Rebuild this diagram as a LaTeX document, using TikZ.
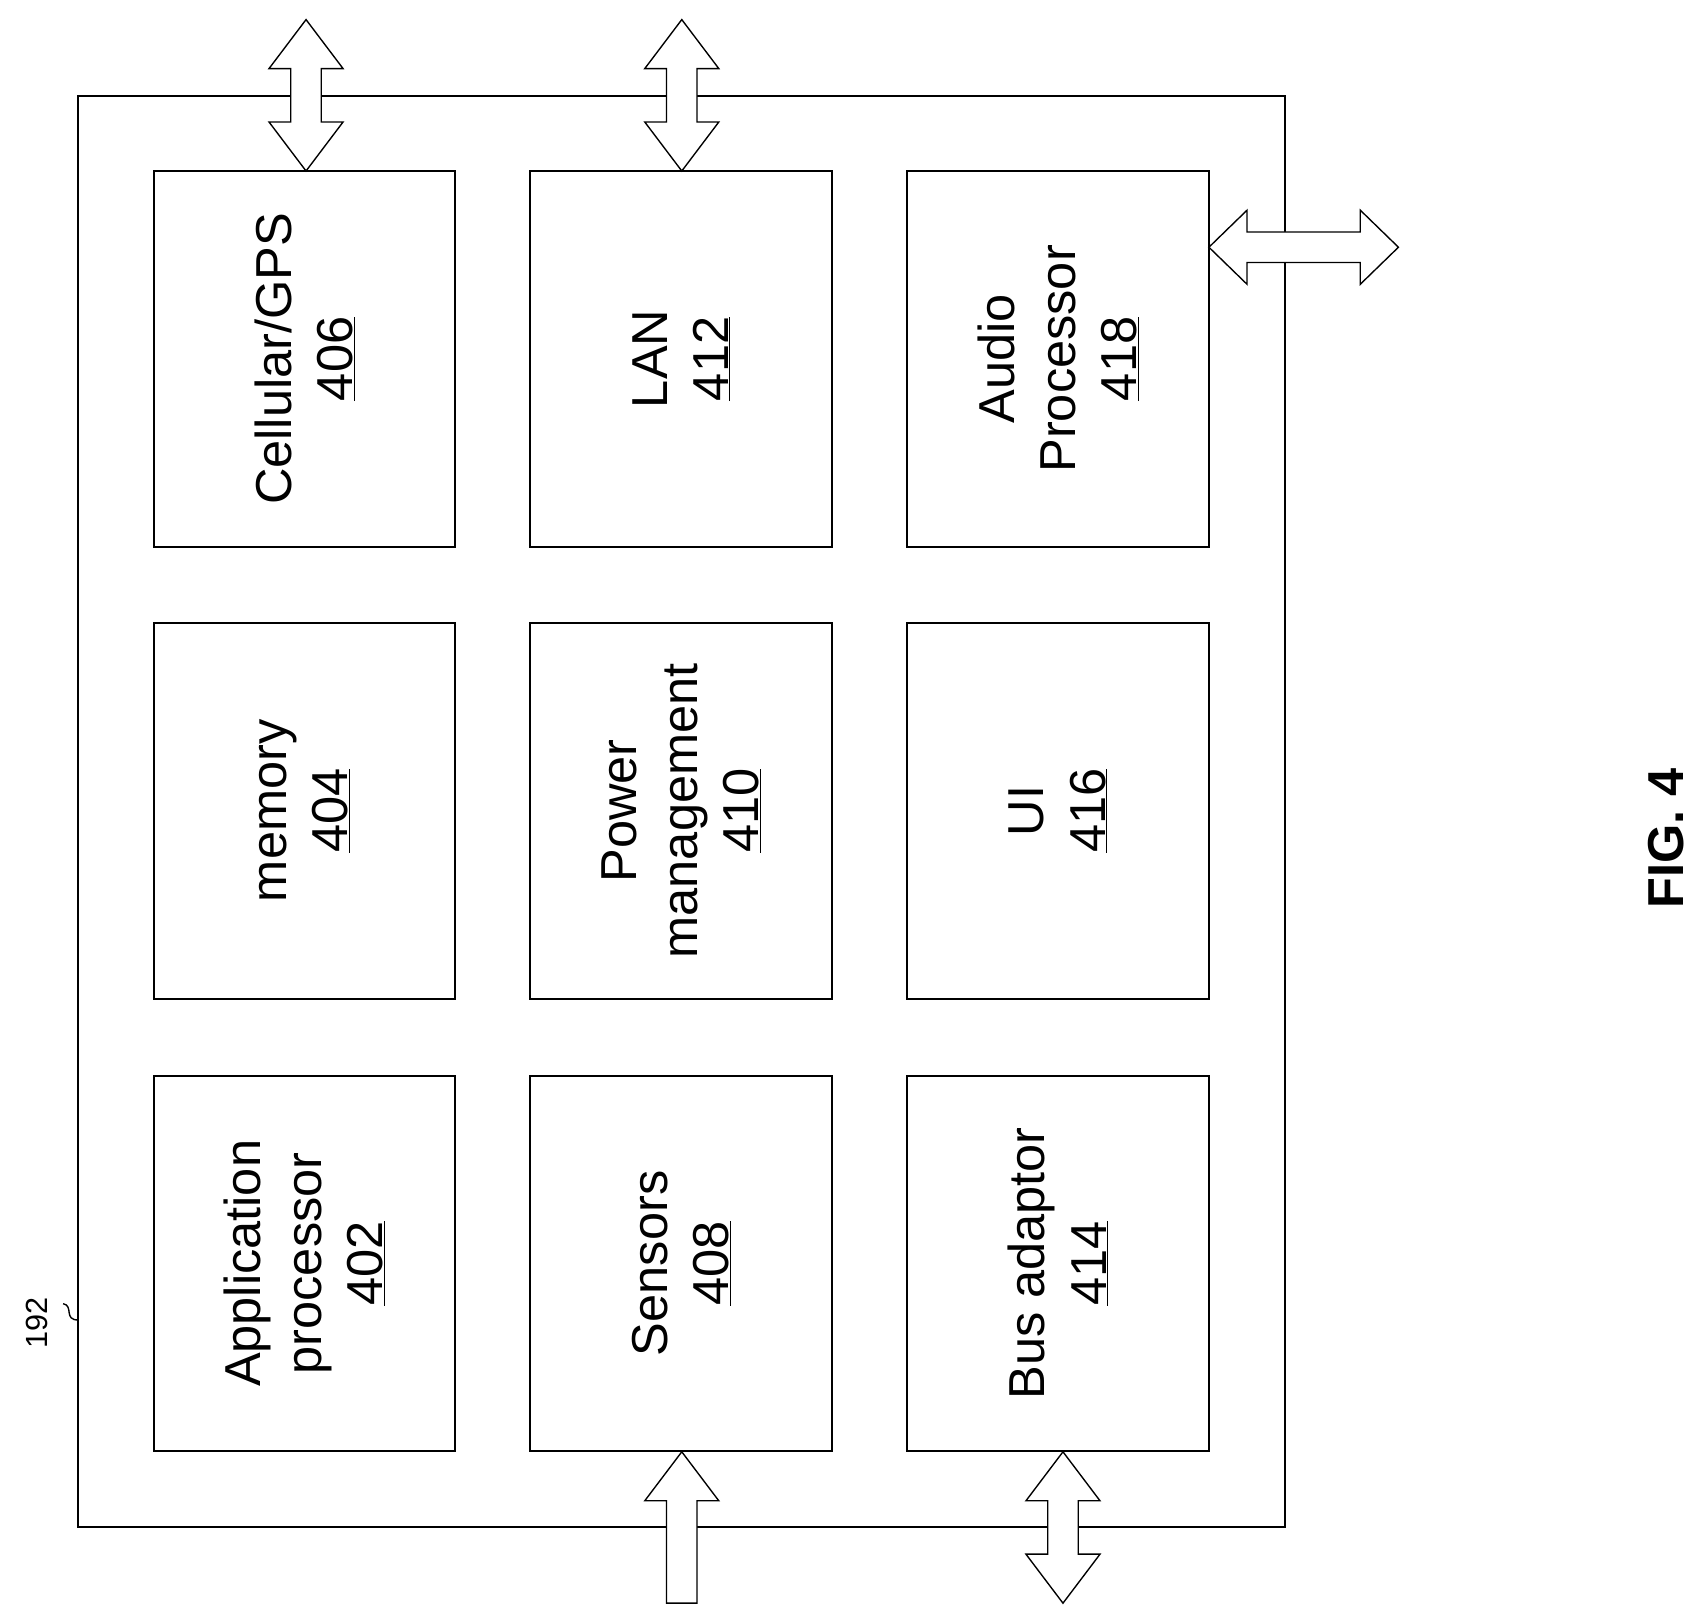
\documentclass[tikz,border=0pt]{standalone}
\usepackage{fontspec}
\setmainfont{Liberation Sans}
\begin{document}
\begin{tikzpicture}[x=0.05cm,y=-0.05cm,line width=2.6pt,
  blk/.style={draw,minimum width=13.85cm,minimum height=17.25cm},
  lbl/.style={rotate=90,align=center,font=\fontsize{66}{80}\selectfont},
  arr/.style={draw,fill=white,line width=1.8pt,line join=miter}]
\useasboundingbox (0,0) rectangle (1560,1484);
\node[draw,minimum width=55.4cm,minimum height=65.7cm] (outer) at (626,745) {};
\foreach \n/\x/\y/\t in {c406/279.5/329.5/{Cellular/GPS\\\underline{406}},
  l412/625.5/329.5/{LAN\\\underline{412}},
  a418/971.5/329.5/{Audio\\Processor\\\underline{418}},
  m404/279.5/744.5/{memory\\\underline{404}},
  p410/625.5/744.5/{Power\\management\\\underline{410}},
  u416/971.5/744.5/{UI\\\underline{416}},
  a402/279.5/1160/{Application\\processor\\\underline{402}},
  s408/625.5/1160/{Sensors\\\underline{408}},
  b414/971.5/1160/{Bus adaptor\\\underline{414}}}
{\node[blk] (\n) at (\x,\y) {};
 \node[lbl] at (\n) {\t};}
\path[arr] (281,18)--(315,63)--(295,63)--(295,112)--(315,112)--(281,157)--(247,112)--(267,112)--(267,63)--(247,63)--cycle;
\path[arr] (626,18)--(660,63)--(640,63)--(640,112)--(660,112)--(626,157)--(592,112)--(612,112)--(612,63)--(592,63)--cycle;
\path[arr] (1110,227)--(1145,193)--(1145,213)--(1249,213)--(1249,193)--(1284,227)--(1249,261)--(1249,241)--(1145,241)--(1145,261)--cycle;
\path[arr] (976,1333)--(1010,1378)--(990,1378)--(990,1427)--(1010,1427)--(976,1472)--(942,1427)--(962,1427)--(962,1378)--(942,1378)--cycle;
\path[arr] (626,1333)--(660,1378)--(640,1378)--(640,1472)--(612,1472)--(612,1378)--(592,1378)--cycle;
\node[rotate=90,font=\fontsize{40}{48}\selectfont] (l192) at (34,1215) {192};
\draw[line width=1.8pt] (58,1197) .. controls (68,1199) and (58,1212) .. (72,1212);
\node[rotate=90,font=\fontsize{66}{80}\selectfont\bfseries] (fig) at (1530,770) {FIG. 4};
\end{tikzpicture}
\end{document}
